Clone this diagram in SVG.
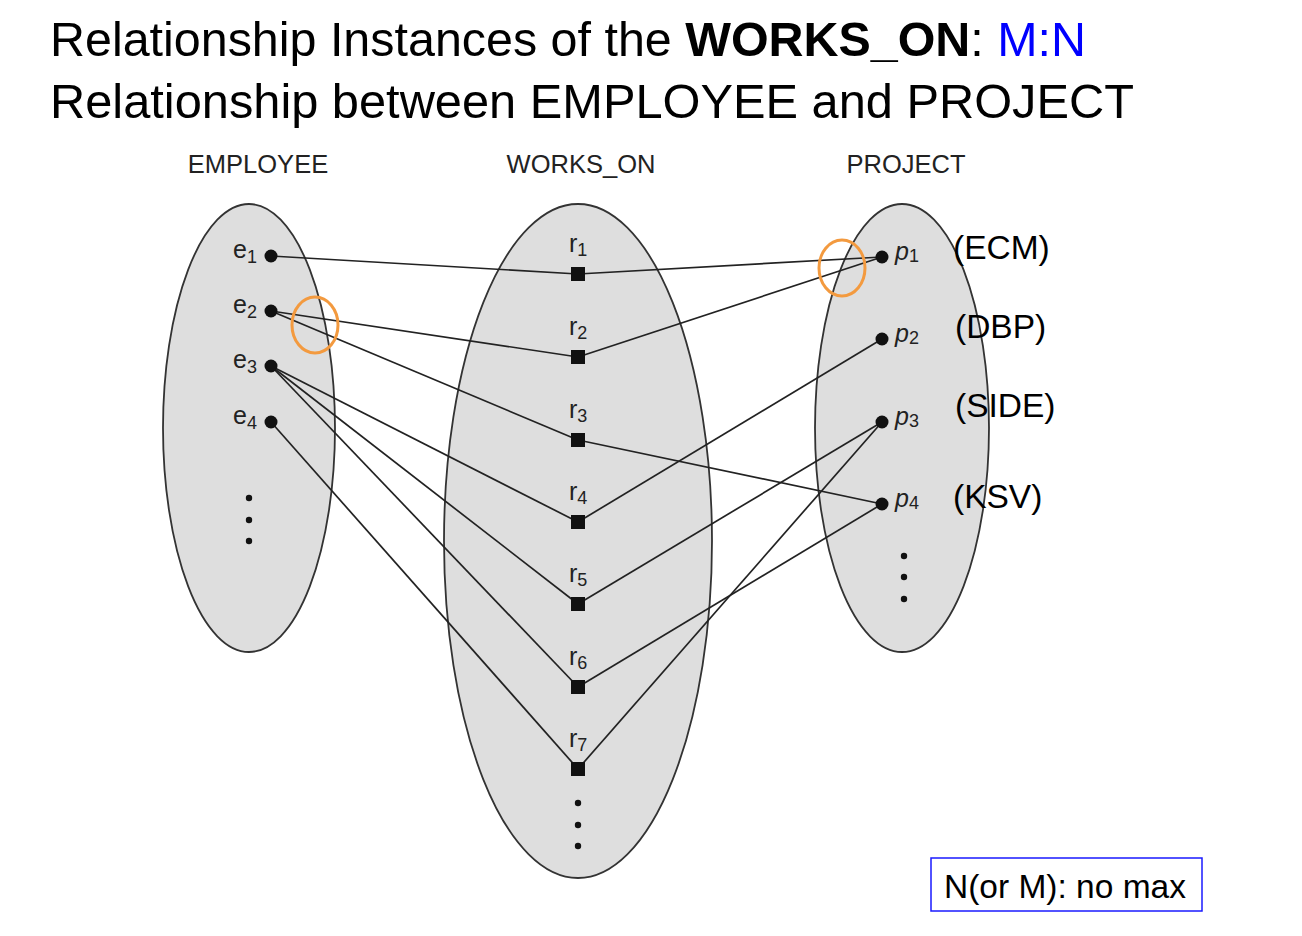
<svg xmlns="http://www.w3.org/2000/svg" width="1302" height="936" viewBox="0 0 1302 936">
<style>
.set{fill:#dedede;stroke:#333;stroke-width:1.8}
.ln{stroke:#222;stroke-width:1.7;fill:none}
.pt{fill:#111}
.lbl{font-family:"Liberation Sans",Arial,sans-serif;font-size:25px;fill:#222}
.it{font-style:italic}
.sub{font-size:18px;font-style:normal}
.hdr{font-family:"Liberation Sans",Arial,sans-serif;font-size:25.5px;fill:#222;text-anchor:middle}
.nm{font-family:"Liberation Sans",Arial,sans-serif;font-size:33.5px;fill:#000}
.title{font-family:"Liberation Sans",Arial,sans-serif;font-size:48px;fill:#000}
.hl{fill:none;stroke:#f39a3f;stroke-width:3}
</style>
<g id="title">
<text class="title" x="50" y="56" textLength="1036" lengthAdjust="spacingAndGlyphs">Relationship Instances of the <tspan font-weight="bold">WORKS_ON</tspan>: <tspan fill="#0000ff">M:N</tspan></text>
<text class="title" x="50" y="118" textLength="1084" lengthAdjust="spacingAndGlyphs">Relationship between EMPLOYEE and PROJECT</text>
</g>
<g id="employee">
<text class="hdr" x="258" y="173">EMPLOYEE</text>
<ellipse class="set" cx="249" cy="428" rx="86" ry="224"/>
</g>
<g id="works_on">
<text class="hdr" x="581" y="173">WORKS_ON</text>
<ellipse class="set" cx="578" cy="541" rx="134" ry="337"/>
</g>
<g id="project">
<text class="hdr" x="906" y="173">PROJECT</text>
<ellipse class="set" cx="902" cy="428" rx="87" ry="224"/>
</g>
<g id="connectors">
<line class="ln" x1="271" y1="256" x2="578" y2="274"/>
<line class="ln" x1="578" y1="274" x2="882" y2="257"/>
<line class="ln" x1="271" y1="311" x2="578" y2="357"/>
<line class="ln" x1="578" y1="357" x2="882" y2="257"/>
<line class="ln" x1="271" y1="311" x2="578" y2="440"/>
<line class="ln" x1="578" y1="440" x2="882" y2="504"/>
<line class="ln" x1="271" y1="366" x2="578" y2="522"/>
<line class="ln" x1="578" y1="522" x2="882" y2="339"/>
<line class="ln" x1="271" y1="366" x2="578" y2="604"/>
<line class="ln" x1="578" y1="604" x2="882" y2="422"/>
<line class="ln" x1="271" y1="366" x2="578" y2="687"/>
<line class="ln" x1="578" y1="687" x2="882" y2="504"/>
<line class="ln" x1="271" y1="422" x2="578" y2="769"/>
<line class="ln" x1="578" y1="769" x2="882" y2="422"/>
</g>
<g id="e1"><circle class="pt" cx="271" cy="256" r="6.5"/><text class="lbl" x="233" y="258">e<tspan class="sub" dy="5">1</tspan></text></g>
<g id="e2"><circle class="pt" cx="271" cy="311" r="6.5"/><text class="lbl" x="233" y="313">e<tspan class="sub" dy="5">2</tspan></text></g>
<g id="e3"><circle class="pt" cx="271" cy="366" r="6.5"/><text class="lbl" x="233" y="368">e<tspan class="sub" dy="5">3</tspan></text></g>
<g id="e4"><circle class="pt" cx="271" cy="422" r="6.5"/><text class="lbl" x="233" y="424">e<tspan class="sub" dy="5">4</tspan></text></g>
<g id="e-more"><circle class="pt" cx="249" cy="498" r="3.2"/><circle class="pt" cx="249" cy="520" r="3.2"/><circle class="pt" cx="249" cy="541" r="3.2"/></g>
<g id="r1"><rect class="pt" x="571" y="267" width="14" height="14"/><text class="lbl" x="569" y="252">r<tspan class="sub" dy="4">1</tspan></text></g>
<g id="r2"><rect class="pt" x="571" y="350" width="14" height="14"/><text class="lbl" x="569" y="335">r<tspan class="sub" dy="4">2</tspan></text></g>
<g id="r3"><rect class="pt" x="571" y="433" width="14" height="14"/><text class="lbl" x="569" y="418">r<tspan class="sub" dy="4">3</tspan></text></g>
<g id="r4"><rect class="pt" x="571" y="515" width="14" height="14"/><text class="lbl" x="569" y="500">r<tspan class="sub" dy="4">4</tspan></text></g>
<g id="r5"><rect class="pt" x="571" y="597" width="14" height="14"/><text class="lbl" x="569" y="582">r<tspan class="sub" dy="4">5</tspan></text></g>
<g id="r6"><rect class="pt" x="571" y="680" width="14" height="14"/><text class="lbl" x="569" y="665">r<tspan class="sub" dy="4">6</tspan></text></g>
<g id="r7"><rect class="pt" x="571" y="762" width="14" height="14"/><text class="lbl" x="569" y="747">r<tspan class="sub" dy="4">7</tspan></text></g>
<g id="r-more"><circle class="pt" cx="578" cy="803" r="3.2"/><circle class="pt" cx="578" cy="825" r="3.2"/><circle class="pt" cx="578" cy="846" r="3.2"/></g>
<g id="p1"><circle class="pt" cx="882" cy="257" r="6.5"/><text class="lbl" x="895" y="260"><tspan class="it">p</tspan><tspan class="sub" dy="2">1</tspan></text></g>
<g id="p2"><circle class="pt" cx="882" cy="339" r="6.5"/><text class="lbl" x="895" y="342"><tspan class="it">p</tspan><tspan class="sub" dy="2">2</tspan></text></g>
<g id="p3"><circle class="pt" cx="882" cy="422" r="6.5"/><text class="lbl" x="895" y="425"><tspan class="it">p</tspan><tspan class="sub" dy="2">3</tspan></text></g>
<g id="p4"><circle class="pt" cx="882" cy="504" r="6.5"/><text class="lbl" x="895" y="507"><tspan class="it">p</tspan><tspan class="sub" dy="2">4</tspan></text></g>
<g id="p-more"><circle class="pt" cx="904" cy="556" r="3.2"/><circle class="pt" cx="904" cy="577" r="3.2"/><circle class="pt" cx="904" cy="599" r="3.2"/></g>
<g id="names">
<text class="nm" x="953" y="259">(ECM)</text>
<text class="nm" x="955" y="338">(DBP)</text>
<text class="nm" x="955" y="417">(SIDE)</text>
<text class="nm" x="953" y="508">(KSV)</text>
</g>
<g id="highlights">
<ellipse class="hl" cx="315" cy="325" rx="23" ry="28"/>
<ellipse class="hl" cx="842" cy="268" rx="23" ry="28"/>
</g>
<g id="note">
<rect x="931" y="858" width="271" height="53" fill="#fff" stroke="#1a1aff" stroke-width="1.5"/>
<text class="nm" x="944" y="898">N(or M): no max</text>
</g>
</svg>
